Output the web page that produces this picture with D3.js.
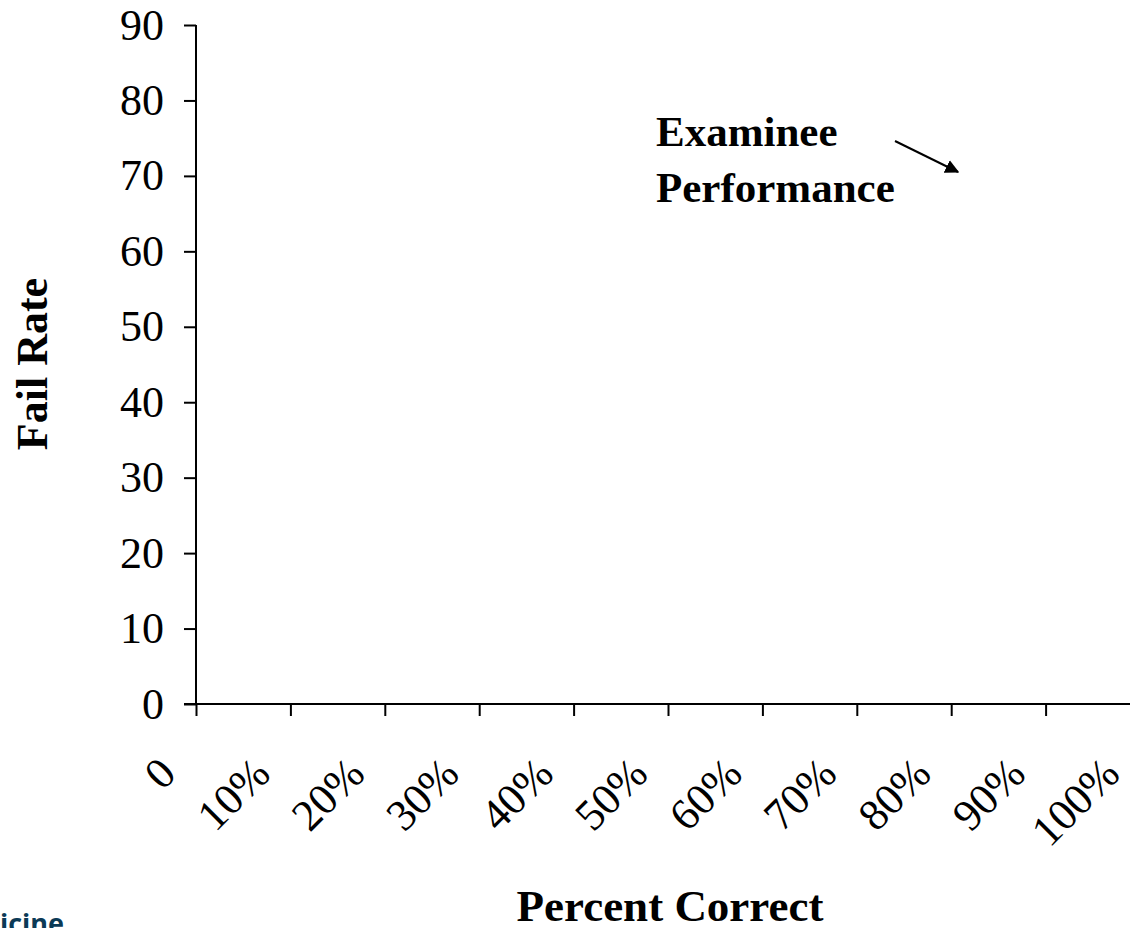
<!DOCTYPE html>
<html>
<head>
<meta charset="utf-8">
<script src="https://cdn.jsdelivr.net/npm/d3@7"></script>
<style>
  body { margin: 0; background: #fff; }
  svg { display: block; }
</style>
</head>
<body>
<svg id="chart" width="1130" height="928"></svg>
<script>
// Axis data
const yTicks = [0, 10, 20, 30, 40, 50, 60, 70, 80, 90];
const xCategories = [0, 10, 20, 30, 40, 50, 60, 70, 80, 90, 100];
const xLabels = ['0', '10%', '20%', '30%', '40%', '50%', '60%', '70%', '80%', '90%', '100%'];
const noteLines = ['Examinee', 'Performance'];

const svg = d3.select('#chart');
const width = 1130;
const serif = "'Liberation Serif', 'Times New Roman', serif";

const axisLeft = 196;
const axisBottom = 704;

const y = d3.scaleLinear().domain([0, 90]).range([axisBottom, 25]);
const x = d3.scaleLinear().domain([0, 100]).range([axisLeft, axisLeft + 10 * 94.4]);

// y axis
const yAxis = d3.axisLeft(y).tickValues(yTicks).tickSize(12).tickPadding(20).tickFormat(d => d);
const yG = svg.append('g').attr('transform', `translate(${axisLeft},0)`).call(yAxis);
yG.select('.domain').remove();
yG.append('line')
  .attr('x1', 0).attr('x2', 0)
  .attr('y1', y(90)).attr('y2', axisBottom)
  .attr('stroke', '#000').attr('stroke-width', 2);
yG.selectAll('.tick line').attr('stroke', '#000').attr('stroke-width', 2);
yG.selectAll('.tick text')
  .attr('fill', '#000')
  .style('font-family', serif)
  .style('font-size', '44px');

// x axis
const xAxis = d3.axisBottom(x).tickValues(xCategories).tickSize(12).tickFormat('');
const xG = svg.append('g').attr('transform', `translate(0,${axisBottom})`).call(xAxis);
xG.select('.domain').remove();
xG.append('line')
  .attr('x1', 184).attr('x2', width)
  .attr('y1', 0).attr('y2', 0)
  .attr('stroke', '#000').attr('stroke-width', 2);
xG.selectAll('.tick line').attr('stroke', '#000').attr('stroke-width', 2);

// rotated category labels
svg.append('g')
  .selectAll('text')
  .data(xCategories)
  .enter()
  .append('text')
  .attr('transform', d => `translate(${x(d) - 18},${axisBottom + 72}) rotate(-45)`)
  .attr('text-anchor', 'end')
  .attr('fill', '#000')
  .style('font-family', serif)
  .style('font-size', '44px')
  .text((d, i) => xLabels[i]);

// axis titles
svg.append('text')
  .attr('transform', 'translate(47,364) rotate(-90)')
  .attr('text-anchor', 'middle')
  .style('font-family', serif)
  .style('font-size', '44px')
  .style('font-weight', 'bold')
  .text('Fail Rate');

svg.append('text')
  .attr('x', 670)
  .attr('y', 921)
  .attr('text-anchor', 'middle')
  .style('font-family', serif)
  .style('font-size', '45px')
  .style('font-weight', 'bold')
  .text('Percent Correct');

// annotation
svg.append('text')
  .attr('x', 656)
  .attr('y', 146)
  .style('font-family', serif)
  .style('font-size', '43px')
  .style('font-weight', 'bold')
  .selectAll('tspan')
  .data(noteLines)
  .enter()
  .append('tspan')
  .attr('x', 656)
  .attr('dy', (d, i) => i === 0 ? 0 : 56)
  .text(d => d);

svg.append('defs').append('marker')
  .attr('id', 'arrow')
  .attr('viewBox', '0 0 10 10')
  .attr('refX', 9).attr('refY', 5)
  .attr('markerWidth', 7).attr('markerHeight', 7)
  .attr('markerUnits', 'strokeWidth')
  .attr('orient', 'auto')
  .append('path')
  .attr('d', 'M0,0 L10,5 L0,10 Z')
  .attr('fill', '#000');

svg.append('line')
  .attr('x1', 895).attr('y1', 141)
  .attr('x2', 958).attr('y2', 172)
  .attr('stroke', '#000').attr('stroke-width', 2)
  .attr('marker-end', 'url(#arrow)');

// footer fragment cut by the slide edge
svg.append('text')
  .attr('x', 0)
  .attr('y', 933)
  .attr('fill', '#0b3a56')
  .style('font-family', "'Open Sans', sans-serif")
  .style('font-size', '27px')
  .style('font-weight', 'bold')
  .text('icine');
</script>
</body>
</html>
